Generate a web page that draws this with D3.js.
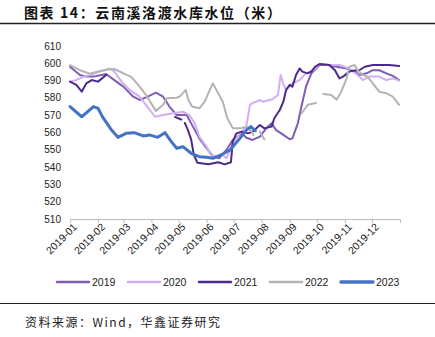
<!DOCTYPE html>
<html><head><meta charset="utf-8">
<script src="https://cdn.jsdelivr.net/npm/d3@7"></script>
<style>
body{margin:0;background:#fff;}
svg{display:block;}
</style></head>
<body>
<svg id="c" width="435" height="337"></svg>
<script>
const titleText = "图表 14：云南溪洛渡水库水位（米）";
const sourceText = "资料来源：Wind，华鑫证券研究";
const yTicks = [510,520,530,540,550,560,570,580,590,600,610];
const monthLabels = ["2019-01","2019-02","2019-03","2019-04","2019-05","2019-06","2019-07","2019-08","2019-09","2019-10","2019-11","2019-12"];
const seriesNames = ["2019","2020","2021","2022","2023"];
const seriesColors = ["#7d5db5","#d3aef0","#4a2b8a","#b4b4b4","#4472c4"];

const s2019 = [["01-01",598],["01-12",593.2],["01-19",592.3],["01-27",592.3],["02-10",593.8],["02-19",590.3],["03-01",586.5],["03-12",580.7],["03-19",578.8],["03-28",580.7],["04-06",583],["04-14",580.7],["04-21",575],["04-29",570.1],["05-10",570.1],["05-17",563.4],["05-24",556.6],["06-01",550.9],["06-08",546.4],["06-15",545.1],["06-23",549.9],["06-30",555.7],["07-10",559.5],["07-15",557],["07-22",555.7],["07-30",557.6],["08-06",562.4],["08-12",565.3],["08-17",561.4],["08-25",558.6],["09-01",556.1],["09-04",556.6],["09-10",565.3],["09-14",575],["09-19",586.5],["09-25",594.2],["10-04",599],["10-13",599],["10-23",598],["11-03",597],["11-12",595.2],["11-17",593.2],["11-25",594.2],["12-02",596],["12-09",596],["12-17",594.2],["12-24",592.7],["12-31",590.3]];
const s2020 = [["01-01",589.4],["01-08",590.3],["01-16",592.3],["01-23",593.2],["02-03",595.2],["02-14",597],["02-19",595.2],["02-27",589.4],["03-08",584.6],["03-19",580.7],["03-26",576],["04-05",569.1],["04-14",570.1],["04-25",571.1],["05-06",572],["05-13",570.1],["05-19",565.3],["05-24",557.6],["06-01",551.8],["06-06",547],["06-12",546],["06-19",547],["06-23",545.1],["06-30",553.8],["07-08",559.5],["07-15",563.4],["07-19",576],["07-22",577],["07-30",578.8],["08-02",577.8],["08-13",579.2],["08-19",581.7],["08-22",593.2],["08-25",588],["08-28",584.6],["09-04",588.4],["09-12",590.3],["09-19",594.2],["09-27",596],["10-04",599.6],["10-15",599],["10-26",599],["11-06",597],["11-15",593.2],["11-21",590.3],["11-28",592.3],["12-09",592.3],["12-17",590.3],["12-24",591.3],["12-31",590]];
const s2021 = [["01-01",589.4],["01-08",587.5],["01-14",583.6],["01-19",588.4],["01-25",590.3],["02-01",589.4],["02-10",593.2],["02-12",null],["04-27",569],["05-04",567.5],["05-06",null],["05-08",565.5],["05-11",562],["05-15",556],["05-18",547],["05-22",542.5],["06-03",541.6],["06-14",542.8],["06-21",541.6],["06-28",542.8],["06-30",554.7],["07-04",559.5],["07-10",560.5],["07-17",559.5],["07-22",560.5],["07-30",564.3],["08-04",562.4],["08-12",563.4],["08-15",568.2],["08-21",573],["08-25",577.8],["08-28",584.6],["09-01",587.5],["09-04",586.5],["09-08",593.2],["09-12",597],["09-15",595.2],["09-21",594.2],["09-25",595.2],["09-29",598],["10-04",599.6],["10-15",599],["10-21",596],["10-26",591.3],["10-30",592.3],["11-06",595.2],["11-12",595.8],["11-17",596],["11-23",598],["12-02",599],["12-13",599],["12-20",599],["12-31",598.4]];
const s2022 = [["01-01",599],["01-12",596],["01-23",594],["02-03",595.5],["02-14",596.5],["02-19",596.7],["03-10",592],["03-19",586.5],["03-26",581.7],["04-06",572.5],["04-14",576],["04-18",579.8],["04-29",580.1],["05-03",581],["05-09",584.6],["05-12",578.8],["05-16",575],["05-24",574],["05-30",577.8],["06-03",582.7],["06-08",588.4],["06-12",584.6],["06-19",577.8],["06-24",568.2],["06-30",562.4],["07-08",562.4],["07-15",563.4],["07-21",560.5],["07-23",558.6],["07-25",null],["07-30",560.5],["08-04",556],["08-06",null],["09-14",571],["09-21",576],["09-30",577],["10-03",null],["10-08",582.3],["10-17",581.7],["10-23",579],["10-28",583.6],["11-03",591.3],["11-06",598],["11-12",599],["11-15",596],["11-21",593.2],["11-26",592.3],["12-02",588.4],["12-09",583.6],["12-17",582.7],["12-24",580.7],["12-31",576]];
const s2023 = [["01-01",575],["01-14",569.1],["01-27",575],["02-01",574],["02-06",569],["02-16",561.4],["02-23",557.2],["03-04",559.5],["03-13",559.9],["03-23",558],["03-30",558.6],["04-08",557.2],["04-16",559.9],["04-23",554.7],["04-29",550.9],["05-06",551.8],["05-15",548],["05-24",546],["06-01",545.7],["06-08",545.1],["06-17",547],["06-27",549.9],["07-08",556.6],["07-15",561.4],["07-20",563.4],["07-25",561]];

const allSeries = [s2019, s2020, s2021, s2022, s2023];
const strokeWidths = [2, 2, 2, 2, 3];

const svg = d3.select("#c");
const parse = d3.timeParse("%Y-%m-%d");

const x = d3.scaleTime().domain([parse("2019-01-01"), parse("2020-01-01")]).range([70, 400]);
const y = d3.scaleLinear().domain([510, 610]).range([219, 46]);

// title
svg.append("text").attr("x", 24).attr("y", 18)
  .attr("font-family", "'Noto Sans CJK SC', sans-serif").attr("font-weight", "bold")
  .attr("font-size", 14).attr("letter-spacing", 1.6).attr("fill", "#111").text(titleText);
svg.append("line").attr("x1", 0).attr("x2", 435).attr("y1", 23.5).attr("y2", 23.5).attr("stroke", "#222").attr("stroke-width", 1.5);

// y axis labels
svg.append("g").selectAll("text").data(yTicks).join("text")
  .attr("x", 61).attr("y", d => y(d)).attr("dy", "0.35em").attr("text-anchor", "end")
  .attr("font-family", "'Liberation Sans', Arial, sans-serif").attr("font-size", 10).attr("fill", "#222")
  .text(d => d);

// x axis
const monthDates = monthLabels.map(m => parse(m + "-01"));
const xAxis = d3.axisBottom(x).tickValues(monthDates).tickSize(4).tickSizeOuter(4).tickFormat((d,i) => monthLabels[i]);
const gx = svg.append("g").attr("transform", `translate(0,${y(510)})`).call(xAxis);
gx.select(".domain").attr("stroke", "#bdbdbd");
gx.selectAll(".tick line").attr("stroke", "#bdbdbd");
gx.selectAll(".tick text")
  .attr("font-family", "'Liberation Sans', Arial, sans-serif").attr("font-size", 10.5).attr("fill", "#222")
  .attr("text-anchor", "end").attr("transform", "rotate(-45)").attr("dx", "-0.1em").attr("dy", "0.6em").attr("y", 5).attr("x", 0);

// lines
const line = d3.line()
  .defined(d => d[1] != null)
  .x(d => x(parse("2019-" + d[0])))
  .y(d => y(d[1]));

allSeries.forEach((s, i) => {
  svg.append("path").datum(s).attr("d", line).attr("fill", "none")
    .attr("stroke", seriesColors[i]).attr("stroke-width", strokeWidths[i])
    .attr("stroke-linejoin", "round").attr("stroke-linecap", "round");
});

// legend
const legendX = [57, 128, 199, 270, 341];
const lg = svg.append("g");
seriesNames.forEach((n, i) => {
  lg.append("line").attr("x1", legendX[i]).attr("x2", legendX[i] + 32).attr("y1", 282).attr("y2", 282)
    .attr("stroke", seriesColors[i]).attr("stroke-width", i === 4 ? 3.5 : 2.5).attr("stroke-linecap", "round");
  lg.append("text").attr("x", legendX[i] + 35).attr("y", 282).attr("dy", "0.35em")
    .attr("font-family", "'Liberation Sans', Arial, sans-serif").attr("font-size", 10.5).attr("fill", "#222").text(n);
});

// bottom
svg.append("line").attr("x1", 0).attr("x2", 435).attr("y1", 303.5).attr("y2", 303.5).attr("stroke", "#222").attr("stroke-width", 1.2);
svg.append("text").attr("x", 25).attr("y", 327)
  .attr("font-family", "'Noto Sans CJK SC', sans-serif").attr("font-size", 12).attr("letter-spacing", 1.5).attr("fill", "#222").text(sourceText);
</script>
</body></html>
